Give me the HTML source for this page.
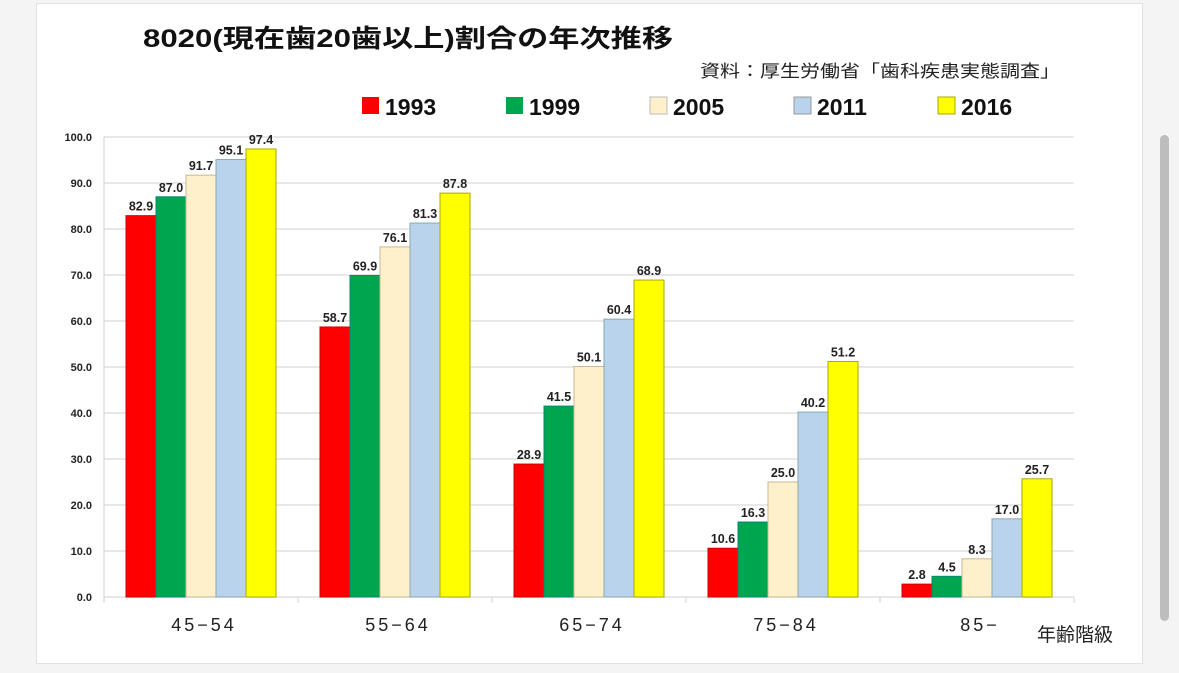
<!DOCTYPE html>
<html><head><meta charset="utf-8"><style>
body{margin:0;background:#f4f4f4;}
svg{display:block}
</style></head><body>
<svg width="1179" height="673" xmlns="http://www.w3.org/2000/svg" font-family="'Liberation Sans','Noto Sans CJK JP',sans-serif">
<rect x="0" y="0" width="1179" height="673" fill="#f4f4f4"/>
<rect x="36.5" y="3.5" width="1106" height="660" fill="#fff" stroke="#e2e2e2"/>
<rect x="1160" y="135" width="9" height="486" rx="4.5" fill="#bdbdbd"/>
<text x="143" y="47" font-size="25" font-weight="bold" fill="#111" textLength="530" lengthAdjust="spacingAndGlyphs">8020(現在歯20歯以上)割合の年次推移</text>
<text x="700" y="77" font-size="17" fill="#222" textLength="360" lengthAdjust="spacingAndGlyphs">資料：厚生労働省「歯科疾患実態調査」</text>
<g font-size="23" font-weight="bold" fill="#111">
<rect x="362" y="97" width="17" height="17" fill="#ff0000"/><text x="385" y="115">1993</text>
<rect x="506" y="97" width="17" height="17" fill="#00a550"/><text x="529" y="115">1999</text>
<rect x="650" y="97" width="17" height="17" fill="#fff0cc" stroke="#bbb"/><text x="673" y="115">2005</text>
<rect x="794" y="97" width="17" height="17" fill="#b9d3ec" stroke="#999"/><text x="817" y="115">2011</text>
<rect x="938" y="97" width="17" height="17" fill="#ffff00" stroke="#aa0"/><text x="961" y="115">2016</text>
</g>
<g stroke="#d9d9d9" stroke-width="1.2">
<line x1="104" y1="137" x2="1074" y2="137"/><line x1="104" y1="183" x2="1074" y2="183"/><line x1="104" y1="229" x2="1074" y2="229"/><line x1="104" y1="275" x2="1074" y2="275"/><line x1="104" y1="321" x2="1074" y2="321"/><line x1="104" y1="367" x2="1074" y2="367"/><line x1="104" y1="413" x2="1074" y2="413"/><line x1="104" y1="459" x2="1074" y2="459"/><line x1="104" y1="505" x2="1074" y2="505"/><line x1="104" y1="551" x2="1074" y2="551"/><line x1="104" y1="597" x2="1074" y2="597"/>
<line x1="104" y1="137" x2="104" y2="603"/>
<line x1="298" y1="597" x2="298" y2="603"/><line x1="492" y1="597" x2="492" y2="603"/><line x1="686" y1="597" x2="686" y2="603"/><line x1="880" y1="597" x2="880" y2="603"/><line x1="1074" y1="597" x2="1074" y2="603"/>
</g>
<g font-size="11" font-weight="bold" fill="#222" text-anchor="end">
<text x="92" y="141">100.0</text><text x="92" y="187">90.0</text><text x="92" y="233">80.0</text><text x="92" y="279">70.0</text><text x="92" y="325">60.0</text><text x="92" y="371">50.0</text><text x="92" y="417">40.0</text><text x="92" y="463">30.0</text><text x="92" y="509">20.0</text><text x="92" y="555">10.0</text><text x="92" y="601">0.0</text>
</g>
<g font-size="18" fill="#222" text-anchor="middle" letter-spacing="3">
<text x="204" y="631">45−54</text><text x="398" y="631">55−64</text><text x="592" y="631">65−74</text><text x="786" y="631">75−84</text><text x="980" y="631">85−</text>
</g>
<text x="1075" y="641" font-size="19" fill="#222" text-anchor="middle">年齢階級</text>
<g id="bars" stroke-width="1"></g>
<g id="lbl" font-size="12.5" font-weight="bold" fill="#222" text-anchor="middle"></g>
<script>
var d=[[82.9,87.0,91.7,95.1,97.4],[58.7,69.9,76.1,81.3,87.8],[28.9,41.5,50.1,60.4,68.9],[10.6,16.3,25.0,40.2,51.2],[2.8,4.5,8.3,17.0,25.7]];
var c=["#ff0000","#00a550","#fff0cc","#b9d3ec","#ffff00"],s=["#c00","#087","#c8b890","#8aa","#aa0"];
var b=document.getElementById('bars'),l=document.getElementById('lbl'),ns="http://www.w3.org/2000/svg";
for(var g=0;g<5;g++)for(var i=0;i<5;i++){var v=d[g][i],x=126+g*194+i*30,h=v*4.6,y=597-h;
var r=document.createElementNS(ns,'rect');r.setAttribute('x',x);r.setAttribute('y',y);r.setAttribute('width',30);r.setAttribute('height',h);r.setAttribute('fill',c[i]);r.setAttribute('stroke',s[i]);b.appendChild(r);
var t=document.createElementNS(ns,'text');t.setAttribute('x',x+15);t.setAttribute('y',y-5);t.textContent=v.toFixed(1);l.appendChild(t);}
</script>
</svg>
</body></html>
